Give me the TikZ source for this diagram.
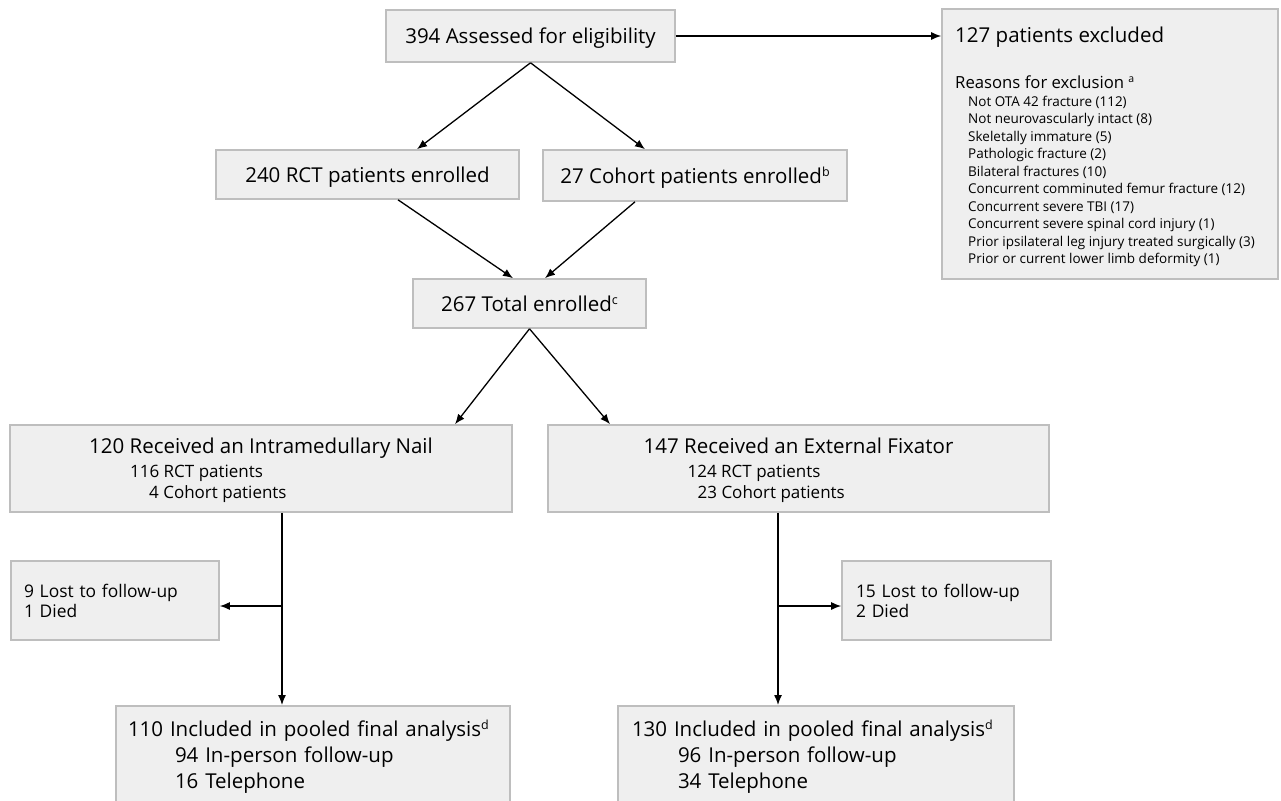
\documentclass[tikz,border=0pt]{standalone}
\usepackage{fontspec}
\setmainfont{Open Sans}
\usepackage{tikz}
\usetikzlibrary{arrows.meta,positioning}
\definecolor{fcfill}{RGB}{239,239,239}
\definecolor{fcline}{RGB}{190,190,190}
\newcommand{\fnmark}[2][12.5]{\raisebox{0.33em}{\fontsize{#1}{#1}\selectfont #2}}
\tikzstyle{stage} = [rectangle, draw=fcline, fill=fcfill, line width=1.6pt, inner sep=0pt, text depth=0pt, align=center, font=\fontsize{20.5}{24}\selectfont]
\tikzstyle{sidebox} = [rectangle, draw=fcline, fill=fcfill, line width=1.6pt, inner ysep=0pt, align=left, font=\fontsize{17.4}{20}\selectfont]
\tikzstyle{txt} = [inner sep=0pt, anchor=base west]
\tikzstyle{flow} = [line width=1.3pt, -{Latex[length=10pt,width=8pt]}]

\begin{document}
\begin{tikzpicture}[x=1pt,y=-1pt]
\useasboundingbox (0,0) rectangle (1281,800);

% Screening
\node[stage, minimum width=289pt, minimum height=52pt] (assess) at (530.5,36) {394 Assessed for eligibility};
\node[stage, minimum width=336pt, minimum height=270pt] (excluded) at (1110,144) {};
\node[txt, font=\fontsize{20.5}{24}\selectfont] (excltitle) at (955,43) {127 patients excluded};
\node[txt, font=\fontsize{16.7}{20}\selectfont] (exclwhy) at (955,88) {Reasons for exclusion \fnmark[10.5]{a}};
\node[txt, anchor=north west, align=left, font=\fontsize{13.5}{17.5}\selectfont] (excllist) at (968,95.5) {Not OTA 42 fracture (112)\\
Not neurovascularly intact (8)\\
Skeletally immature (5)\\
Pathologic fracture (2)\\
Bilateral fractures (10)\\
Concurrent comminuted femur fracture (12)\\
Concurrent severe TBI (17)\\
Concurrent severe spinal cord injury (1)\\
Prior ipsilateral leg injury treated surgically (3)\\
Prior or current lower limb deformity (1)};

% Enrolment
\node[stage, minimum width=303pt, minimum height=49pt] (rct) at (367.5,174.5) {240 RCT patients enrolled};
\node[stage, minimum width=304pt, minimum height=51pt] (cohort) at (695,175.5) {27 Cohort patients enrolled\fnmark{b}};
\node[stage, minimum width=233pt, minimum height=49pt] (total) at (529.5,303.5) {267 Total enrolled\fnmark{c}};

% Treatment arms
\node[stage, minimum width=502pt, minimum height=87pt, align=left, font=\fontsize{17}{21}\selectfont] (nail) at (261,468.5) {{\fontsize{20.5}{24}\selectfont 120 Received an Intramedullary Nail}\\[3pt]
\hspace*{41pt}116 RCT patients\\
\hspace*{60pt}4 Cohort patients};
\node[stage, minimum width=501pt, minimum height=87pt, align=left, font=\fontsize{17}{21}\selectfont] (fix) at (798.5,468.5) {{\fontsize{20.5}{24}\selectfont 147 Received an External Fixator}\\[3pt]
\hspace*{44pt}124 RCT patients\\
\hspace*{54pt}23 Cohort patients};

% Follow-up
\coordinate (nailfork) at (282,606);
\coordinate (fixfork) at (778,606);
\node[sidebox, text width=182pt, inner xsep=13pt, minimum height=79pt] (lostL) at (115,600.5) {9 Lost to follow-up\\1 Died};
\node[sidebox, text width=181pt, inner xsep=14pt, minimum height=79pt] (lostR) at (946.5,600.5) {15 Lost to follow-up\\2 Died};

% Final analysis
\node[sidebox, anchor=north, text width=370pt, inner xsep=12pt, inner ysep=14.5pt, font=\fontsize{20.5}{26}\selectfont] (inclL) at (313,705) {110 Included in pooled final analysis\fnmark{d}\\
\hspace*{47pt}94 In-person follow-up\\
\hspace*{47pt}16 Telephone};
\node[sidebox, anchor=north, text width=368pt, inner xsep=14pt, inner ysep=14.5pt, font=\fontsize{20.5}{26}\selectfont] (inclR) at (816,705) {130 Included in pooled final analysis\fnmark{d}\\
\hspace*{46pt}96 In-person follow-up\\
\hspace*{46pt}34 Telephone};

% Connectors
\draw[flow] (assess.east) -- (assess.east -| excluded.west);
\draw[flow] (assess.south) -- ([xshift=49.5pt]rct.north);
\draw[flow] (assess.south) -- ([xshift=-50pt]cohort.north);
\draw[flow] ([xshift=30.5pt]rct.south) -- ([xshift=-16.5pt]total.north);
\draw[flow] ([xshift=-60pt]cohort.south) -- ([xshift=15.5pt]total.north);
\draw[flow] (total.south) -- ([xshift=194pt]nail.north);
\draw[flow] (total.south) -- ([xshift=-188.5pt]fix.north);
\draw[flow] (nail.south -| nailfork) -- (nailfork |- inclL.north);
\draw[flow] (nailfork) -- (nailfork -| lostL.east);
\draw[flow] (fix.south -| fixfork) -- (fixfork |- inclR.north);
\draw[flow] (fixfork) -- (fixfork -| lostR.west);
\end{tikzpicture}
\end{document}
